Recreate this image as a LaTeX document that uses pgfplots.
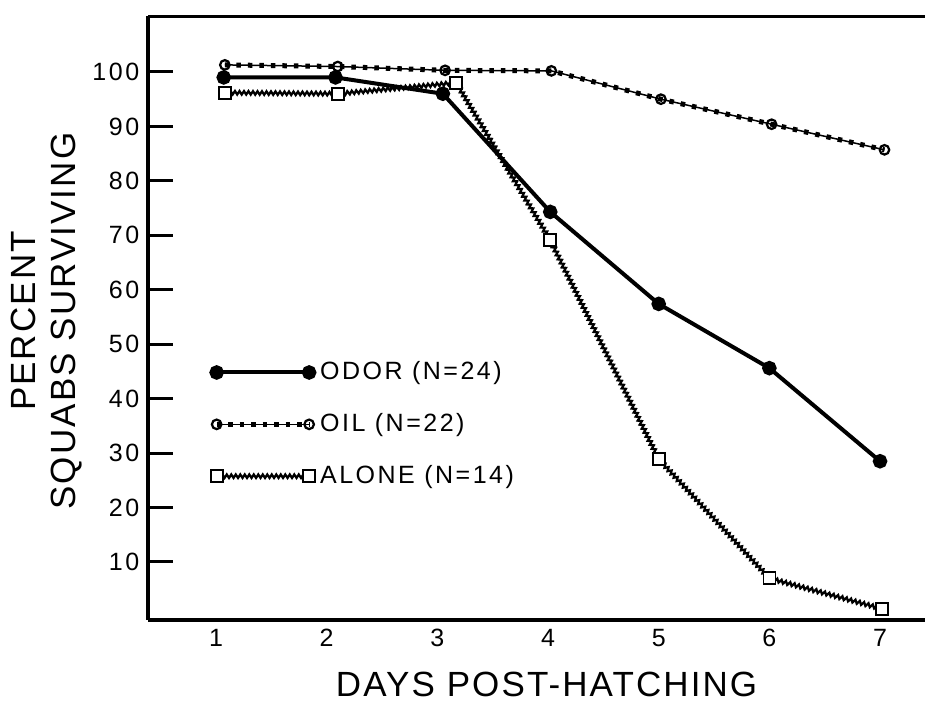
\documentclass[border=0pt]{standalone}
\usepackage{fontspec}
\setmainfont[LetterSpace=10]{Liberation Sans}
\newfontfamily\labelfont[LetterSpace=6]{Liberation Sans}
\usepackage{pgfplots}
\pgfplotsset{compat=1.18}
\usetikzlibrary{decorations.pathmorphing}

\tikzset{zz/.style={black, line width=0.9pt, decorate,
    decoration={zigzag, amplitude=0.7pt, segment length=1.8pt}}}
\pgfplotsset{alone legend/.style={legend image code/.code={
    \draw[zz] (0pt,0pt) -- (37pt,0pt);
    \draw[##1] plot coordinates {(0pt,0pt) (37pt,0pt)};}}}

\begin{document}
\begin{tikzpicture}
\begin{axis}[
    at={(0,0)}, anchor=south west,
    scale only axis, width=310.8pt, height=241.6pt,
    xmin=0.3856, xmax=7.406, ymin=-0.66, ymax=110.28,
    axis x line*=bottom, axis y line*=left,
    axis line style={line width=1.9pt, -},
    xtick={1,...,7}, ytick={10,20,...,100},
    xtick pos=bottom, ytick pos=left,
    tick align=inside, major tick length=10pt,
    y tick style={line width=1.2pt, black},
    x tick style={draw=none},
    tick label style={font=\fontsize{10}{12}\selectfont},
    /pgf/number format/assume math mode=true,
    xlabel={DAYS POST-HATCHING},
    ylabel={PERCENT\\SQUABS SURVIVING},
    xlabel style={at={(axis description cs:0.513,0)}, anchor=base, yshift=-30.8pt,
        inner sep=0pt, font=\labelfont\fontsize{14}{16}\selectfont},
    ylabel style={at={(axis description cs:-0.0837,0.495)}, anchor=south,
        inner sep=0pt, align=center, font=\labelfont\fontsize{14}{16}\selectfont},
    legend style={at={(axis description cs:0.080,0.437)}, anchor=north west,
        draw=none, fill=none, inner xsep=0pt, inner ysep=0pt, row sep=8pt,
        font=\fontsize{10}{12}\selectfont, cells={anchor=west}},
    legend cell align=left,
    legend image code/.code={\draw[#1] plot coordinates {(0pt,0pt) (37pt,0pt)};},
]
% top frame line, running off the right edge like the cropped original
\draw[line width=1.9pt] (axis description cs:0,1) -- (axis description cs:1,1);
% odor
\addplot[black, line width=1.6pt, mark=*, mark size=2.1pt] coordinates {
    (1.07,99) (2.08,99) (3.05,96) (4.02,74.3) (5.0,57.4) (6.0,45.6) (7.0,28.5)
};
% oil
\addplot[black, line width=0.6pt, mark=o, mark size=1.9pt,
    mark options={solid, fill=white, line width=0.9pt},
    postaction={draw, line width=2pt, dash pattern=on 1.8pt off 2.8pt}] coordinates {
    (1.08,101.3) (2.1,101) (3.07,100.3) (4.03,100.2) (5.02,95) (6.02,90.4) (7.04,85.7)
};
% alone: zigzag line, then the square marks
\addplot[zz, forget plot] coordinates {
    (1.08,96.2) (2.1,96) (3.17,98) (4.02,69.1) (5.0,28.9) (6.0,7) (7.02,1.4)
};
\addplot[draw=none, mark=square*, mark size=2.4pt,
    mark options={draw=black, fill=white, line width=0.7pt}, alone legend] coordinates {
    (1.08,96.2) (2.1,96) (3.17,98) (4.02,69.1) (5.0,28.9) (6.0,7) (7.02,1.4)
};
\legend{ODOR (N=24), OIL (N=22), ALONE (N=14)}
\end{axis}
\pgfresetboundingbox
\useasboundingbox (-59.2pt,-33.2pt) rectangle (310.8pt,248pt);
\end{tikzpicture}
\end{document}
